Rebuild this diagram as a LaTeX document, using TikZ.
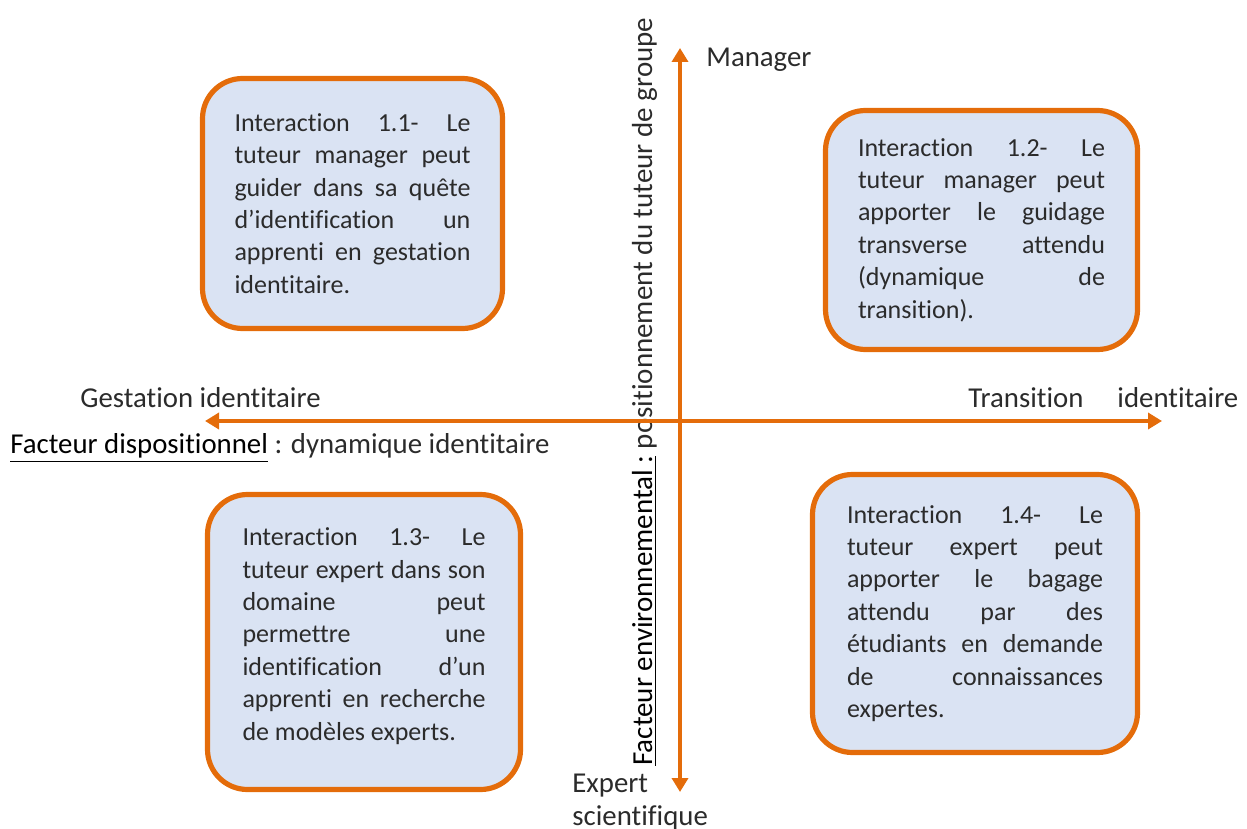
\documentclass[tikz,border=0pt]{standalone}
\usepackage{fontspec}
\setmainfont{Carlito}[Ligatures={NoCommon,NoContextual}]
\usetikzlibrary{arrows.meta}
\definecolor{axeorange}{HTML}{E46C0A}
\definecolor{boxblue}{HTML}{DAE3F3}
\definecolor{txtgray}{HTML}{2B2B2B}
\hyphenpenalty=10000
\exhyphenpenalty=10000

\begin{document}
\begin{tikzpicture}[x=0.5pt, y=-0.5pt,
    inter/.style={draw=axeorange, line width=2.6pt, fill=boxblue, rounded corners=20pt,
        align=justify, inner sep=0pt, text=txtgray, font=\fontsize{13}{16.2}\selectfont},
    axe/.style={color=axeorange, line width=2pt,
        {Triangle[width=8pt,length=7pt]}-{Triangle[width=8pt,length=7pt]}},
    lbl/.style={inner sep=0pt, text=txtgray, font=\fontsize{14.4}{16.5}\selectfont}]
    \useasboundingbox (0,0) rectangle (1247,829);
    \node[inter, text width=118pt, minimum width=150pt, minimum height=125pt] (b11) at (352.5,203.5)
        {Interaction 1.1- Le\linebreak tuteur manager peut\linebreak guider dans sa quête\linebreak
        d’identification un\linebreak apprenti en gestation\linebreak identitaire.};
    \node[inter, text width=123.5pt, minimum width=156pt, minimum height=119.5pt] (b12) at (981.5,230)
        {Interaction 1.2- Le\linebreak tuteur manager peut\linebreak apporter le guidage\linebreak
        transverse attendu\linebreak (dynamique de\linebreak transition).};
    \node[inter, text width=121.5pt, minimum width=156.5pt, minimum height=147.5pt] (b13) at (364,642)
        {Interaction 1.3- Le\linebreak tuteur expert dans son\linebreak domaine peut\linebreak
        permettre une\linebreak identification d’un\linebreak apprenti en recherche\linebreak
        de modèles experts.\vspace*{6pt}};
    \node[inter, text width=128pt, minimum width=162.5pt, minimum height=139pt] (b14) at (975,613.5)
        {Interaction 1.4- Le\linebreak tuteur expert peut\linebreak apporter le bagage\linebreak
        attendu par des\linebreak étudiants en demande\linebreak de connaissances\linebreak expertes.};
    \node[lbl, anchor=west] (mgr) at (706,60) {Manager};
    \node[lbl, anchor=west] (gest) at (80,398) {Gestation identitaire};
    \node[lbl, anchor=west] (trans) at (968,398) {\makebox[135pt][s]{Transition identitaire}};
    \node[lbl, anchor=west] (disp) at (10,448) {\textcolor{black}{\underline{Facteur dispositionnel}} : dynamique identitaire};
    \node[lbl, anchor=north west, align=left] (expsci) at (572,774) {Expert\\scientifique};
    \node[lbl, rotate=90, anchor=base west, font=\fontsize{14.5}{16.5}\selectfont] (env) at (652,766)
        {\textcolor{black}{\underline{Facteur environnemental :}} positionnement du tuteur de groupe};
    \coordinate (ytop) at (680,48);
    \coordinate (ybot) at (680,792);
    \coordinate (xleft) at (205,421);
    \coordinate (xright) at (1162,421);
    \path[axe]
        (xleft) edge (xright)
        (ybot) edge (ytop);
\end{tikzpicture}
\end{document}
